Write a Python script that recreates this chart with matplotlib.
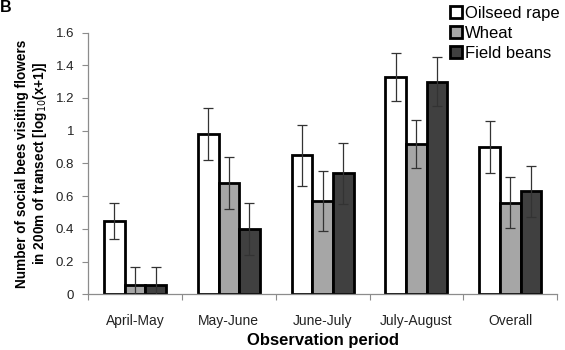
import matplotlib.pyplot as plt
import numpy as np

plt.rcParams['font.family'] = ['Liberation Sans', 'DejaVu Sans']

periods = ["April-May", "May-June", "June-July", "July-August", "Overall"]
crops = ["Oilseed rape", "Wheat", "Field beans"]
oilseed = [0.45, 0.98, 0.85, 1.33, 0.90]
wheat = [0.06, 0.68, 0.57, 0.92, 0.56]
beans = [0.06, 0.40, 0.74, 1.30, 0.63]
oilseed_err = [0.11, 0.16, 0.185, 0.147, 0.157]
wheat_err = [0.11, 0.16, 0.185, 0.148, 0.157]
beans_err = [0.11, 0.16, 0.185, 0.148, 0.157]

colors = ["#ffffff", "#a6a6a6", "#404040"]
gray = "#8c8c8c"

fig = plt.figure(figsize=(5.65, 3.5), dpi=100)
ax = fig.add_axes([0.156, 0.159, 0.830, 0.748])

x = np.arange(len(periods))
w = 0.22
series = [(oilseed, oilseed_err), (wheat, wheat_err), (beans, beans_err)]
for i, (vals, errs) in enumerate(series):
    pos = x + (i - 1) * w
    ax.bar(pos, vals, w, color=colors[i], edgecolor="black", linewidth=2.0,
           label=crops[i], zorder=2)
    ax.errorbar(pos, vals, yerr=errs, fmt="none", ecolor="#333333",
                elinewidth=0.9, capsize=3.5, capthick=0.9, zorder=3)

ax.set_xlim(-0.5, len(periods) - 0.5)
ax.set_ylim(0, 1.6)
ax.set_yticks(np.arange(0, 1.61, 0.2))
ax.set_yticklabels(["0", "0.2", "0.4", "0.6", "0.8", "1", "1.2", "1.4", "1.6"])

ax.set_xticks(np.arange(-0.5, len(periods)))
ax.set_xticklabels([])
ax.set_xticks(x, minor=True)
ax.set_xticklabels(periods, minor=True)
ax.tick_params(axis="x", which="minor", length=0, pad=14, labelsize=10, colors="#222222")
ax.tick_params(axis="x", which="major", length=4, color=gray, direction="out")
ax.tick_params(axis="y", length=4, color=gray, labelsize=9.5, labelcolor="#222222", pad=6)

for s in ["top", "right"]:
    ax.spines[s].set_visible(False)
for s in ["left", "bottom"]:
    ax.spines[s].set_color(gray)
    ax.spines[s].set_linewidth(0.9)

ax.set_ylabel("Number of social bees visiting flowers\nin 200m of transect [log$_{10}$(x+1)]",
              fontsize=9.8, fontweight="bold", labelpad=5, linespacing=1.15)
ax.set_xlabel("Observation period", fontsize=12, fontweight="bold", va="center")
ax.xaxis.set_label_coords(0.5, -0.175)

leg = fig.legend(loc="upper right", bbox_to_anchor=(1.0, 1.0), frameon=False,
                 fontsize=12, handlelength=0.7, handleheight=0.7,
                 handletextpad=0.15, labelspacing=0.3, borderaxespad=0.1,
                 borderpad=0.25)

fig.text(0.0, 1.0, "B", fontsize=11.5, fontweight="bold", va="top", ha="left")

fig.savefig("out.png", dpi=100)
